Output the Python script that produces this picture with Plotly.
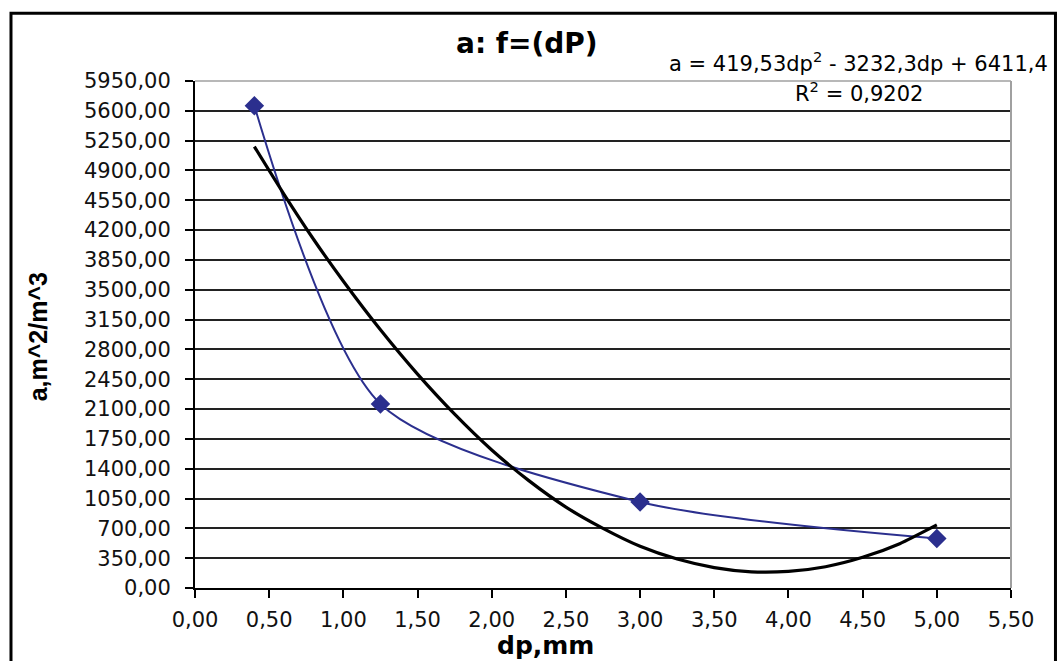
import plotly.graph_objects as go

# Measured data points (dp, mm ; a, m^2/m^3)
dp_points = [0.40, 1.25, 3.00, 5.00]
a_points = [5660, 2160, 1010, 580]

# Trendline
dp_trend = [0.40, 0.60, 0.80, 1.00, 1.25, 1.50, 1.75, 2.00, 2.25, 2.50,
            2.75, 3.00, 3.25, 3.50, 3.75, 4.00, 4.25, 4.50, 4.75, 5.00]
a_trend = [5180, 4620, 4090, 3600, 3030, 2510, 2040, 1620, 1260, 950,
           700, 490, 340, 240, 190, 195, 250, 360, 520, 740]

x_ticks = [0.0, 0.5, 1.0, 1.5, 2.0, 2.5, 3.0, 3.5, 4.0, 4.5, 5.0, 5.5]
y_ticks = [0, 350, 700, 1050, 1400, 1750, 2100, 2450, 2800, 3150, 3500,
           3850, 4200, 4550, 4900, 5250, 5600, 5950]

title_text = "a: f=(dP)"
eq_text = "a = 419,53dp<sup>2</sup> - 3232,3dp + 6411,4"
r2_text = "R<sup>2</sup> = 0,9202"
x_title = "dp,mm"
y_title = "a,m^2/m^3"

blue = "#2B2F8E"
tick_font = dict(family="DejaVu Sans", size=21, color="#111111")

fig = go.Figure()
fig.add_trace(go.Scatter(
    x=dp_points, y=a_points, mode="lines+markers",
    line=dict(color=blue, width=2, shape="spline", smoothing=0.75),
    marker=dict(symbol="diamond", size=15, color=blue),
    showlegend=False, cliponaxis=False,
))
fig.add_trace(go.Scatter(
    x=dp_trend, y=a_trend, mode="lines",
    line=dict(color="black", width=3.2, shape="spline", smoothing=0.6),
    showlegend=False,
))

fig.update_layout(
    width=1058, height=661,
    margin=dict(l=195, r=47, t=81, b=73),
    paper_bgcolor="white", plot_bgcolor="white",
    separators=", ",
    font=dict(family="DejaVu Sans", color="#111111"),
    showlegend=False,
)
fig.update_xaxes(
    range=[0, 5.5], tickvals=x_ticks, tickformat=".2f",
    showgrid=False, zeroline=False,
    showline=True, linecolor="black", linewidth=2,
    ticks="outside", ticklen=8, tickwidth=2, tickcolor="black",
    tickfont=tick_font, ticklabelstandoff=4,
)
fig.update_yaxes(
    range=[0, 5950], tickvals=y_ticks, tickformat=".2f",
    showgrid=True, gridcolor="#222222", gridwidth=1.8, zeroline=False,
    showline=True, linecolor="black", linewidth=2,
    ticks="outside", ticklen=8, tickwidth=2, tickcolor="black",
    tickfont=tick_font, ticklabelstandoff=10,
)

shapes = [
    # gray plot-area border on top and right
    dict(type="line", xref="paper", yref="paper", x0=0, x1=1, y0=1, y1=1,
         line=dict(color="#b8b8b8", width=2), layer="above"),
    dict(type="line", xref="paper", yref="paper", x0=1, x1=1, y0=0, y1=1,
         line=dict(color="#a0a0a0", width=2), layer="above"),
    # outer chart frame
    dict(type="rect", xref="paper", yref="paper",
         x0=-0.2255, x1=1.0545, y0=-0.2, y1=1.1334,
         line=dict(color="black", width=3), fillcolor="rgba(0,0,0,0)"),
]
fig.update_layout(shapes=shapes)

annotations = [
    dict(text="<b>" + title_text + "</b>", xref="paper", yref="paper",
         x=0.407, y=1.074, showarrow=False, xanchor="center", yanchor="middle",
         font=dict(family="DejaVu Sans", size=28, color="black")),
    dict(text=eq_text, xref="paper", yref="paper",
         x=0.813, y=1.037, showarrow=False, xanchor="center", yanchor="middle",
         font=dict(family="DejaVu Sans", size=21, color="black")),
    dict(text=r2_text, xref="paper", yref="paper",
         x=0.814, y=0.978, showarrow=False, xanchor="center", yanchor="middle",
         font=dict(family="DejaVu Sans", size=21, color="black")),
    dict(text="<b>" + x_title + "</b>", xref="paper", yref="paper",
         x=0.429, y=-0.114, showarrow=False, xanchor="center", yanchor="middle",
         font=dict(family="DejaVu Sans", size=25, color="black")),
    dict(text="<b>" + y_title + "</b>", xref="paper", yref="paper",
         x=-0.192, y=0.495, showarrow=False, xanchor="center", yanchor="middle",
         textangle=-90,
         font=dict(family="Liberation Sans", size=25, color="black")),
]
fig.update_layout(annotations=annotations)

fig.write_html("out.html")
